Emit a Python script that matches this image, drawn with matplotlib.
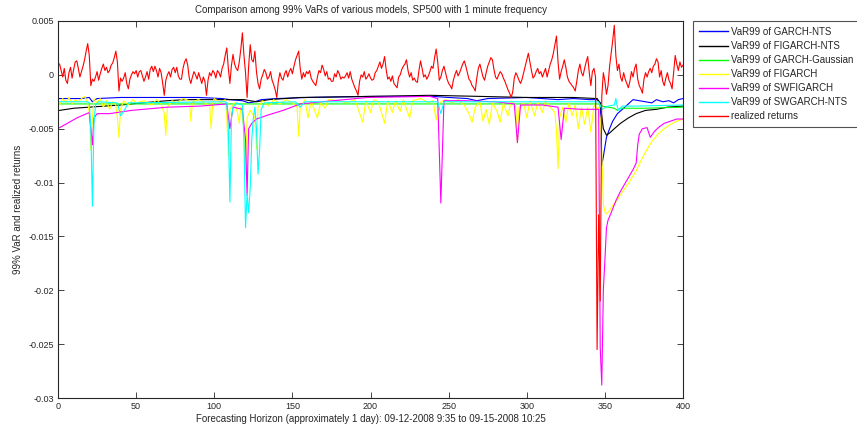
'''
99% VaR of several models vs realized 1-minute returns, SP500
'''

import numpy
from matplotlib import pyplot

pyplot.rcParams['font.family'] = ['Liberation Sans', 'DejaVu Sans']

# all values below are in units of 1e-3

# realized returns, one per minute (t = 1..400)
realized = numpy.array([
    1.0, 0.4, -0.2, 0.6, -0.5, -0.8, 0.2, 0.7, -0.3, 0.5, 1.2, 1.3, 0.6, -0.2, 0.3, 0.8, 1.4, 2.2, 2.9, 1.8,
    -1.0, -0.4, -0.6, -0.2, 0.3, -0.5, 0.1, 0.6, 1.0, 0.4, 0.7, 0.2, 0.4, 0.9, 1.1, 1.6, 2.2, 1.2, -1.5, -0.3,
    -0.6, -0.3, 0.2, -0.8, -1.3, -0.4, 0.0, 0.3, 0.1, 0.4, -0.2, 0.3, 0.4, -0.1, -0.6, -0.2, 0.3, -0.4, 0.5, 0.8,
    0.3, 0.8, 0.4, -0.2, 0.6, 0.2, -0.8, -1.9, -0.5, 0.0, 0.3, -0.2, 0.5, 0.7, 0.2, 0.7, -0.1, -0.4, -0.4, 0.6,
    1.2, 1.5, 0.9, -0.3, -0.8, -0.2, 0.3, 0.0, -0.4, 0.2, -0.3, -0.8, -0.2, -0.6, -1.9, -0.5, 0.2, -0.1, 0.4, 0.2,
    -0.3, 0.4, 0.2, -0.2, 0.6, 1.0, 1.8, 2.5, 0.6, -0.8, 0.9, 1.9, 1.0, 0.6, 0.4, 1.2, 2.4, 3.9, 1.8, 0.2,
    -2.1, 0.8, 2.8, 1.4, 1.2, 2.2, 0.3, -0.8, -1.3, -0.4,
    0.0, 0.5, 0.2, -0.4, -0.2, 0.3, -0.5, -0.9, -1.4, -2.1, -0.6, 0.2, -0.3, -0.5, 0.1, 0.4, -0.2, 0.3, 0.6, 0.1,
    0.8, 1.4, 1.8, 2.2, 0.6, -0.4, 0.2, -0.2, 0.3, 0.1,
    0.4, -0.3, -0.6, -0.8, -1.0, -0.2, 0.4, 0.2, 0.9, 0.5, -0.1, 0.3, -0.4, -0.3, -0.6, -0.6, 0.1, -0.2, 0.4, 0.1,
    -0.4, -0.2, -0.3, -0.1, 0.2, -0.3, 0.3, -0.4, -0.8, -1.2,
    -1.5, -1.9, -0.6, 0.0, -0.2, 0.3, -0.4, -0.2, 0.1, -0.3, -0.5, -0.4, 0.2, 0.4, 0.8, 1.2, 0.6, 1.0, 1.7, 0.5,
    -0.4, -0.2, -0.6, -0.1, -0.8, -1.0, -1.2, -0.2, 0.0, 0.5,
    0.8, 1.0, 1.4, 0.4, -0.2, 0.2, -0.5, -0.3, -0.6, -0.7, 0.4, 1.3, 0.6, -0.2, 0.0, -0.4, -0.1, 0.3, 0.8, 0.6,
    1.6, 2.4, 1.2, -0.5, -0.2, 0.4, 0.8, 0.2, -0.4, -0.8,
    -1.0, -1.3, -0.5, 0.0, 0.4, -0.1, 0.2, 0.6, 1.0, 1.3, 0.8, 0.2, -0.4, -0.6, -1.0, -1.2, -1.5, -0.3, 0.6, 1.0,
    0.4, -0.2, -0.5, 0.2, 0.8, 1.2, 1.6, 1.4, 0.5, -0.2,
    -0.4, 0.0, 0.3, 0.1, -0.3, -0.6, -1.0, -1.4, -1.7, -2.1, -1.6, -0.3, 0.2, -0.1, -0.5, -0.8, -0.4, 0.2, 0.8, 1.4,
    2.0, 1.2, 0.4, -0.3, -0.1, 0.3, 0.6, 0.1, 0.3, -0.2,
    0.2, 0.6, -0.2, 0.4, 1.0, 1.4, 2.0, 2.8, 3.6, 1.2, -0.4, 0.3, 0.8, 1.4, 0.7, -0.2, -0.6, -0.8, -1.0, -1.2,
    -1.5, -0.6, 0.4, 1.0, 0.2, -0.1, 0.6, 1.2, 1.7, 0.2,
    -1.0, 0.3, 0.6, -0.2, -25.5, -13.0, -21.0, -2.0, 0.2, -0.6, -1.8, -1.0, 0.8, 2.0, 3.2, 4.6, 1.8, 0.4, 1.0, -0.2,
    -0.6, 0.2, -0.4, -0.8, -1.2, -0.6, 0.3, -0.2, 0.6, 1.0,
    -0.4, -1.0, -1.3, -1.7, -0.4, 0.2, -0.2, 0.3, 0.6, 0.2, 0.8, 1.0, 1.5, 1.2, -0.2, 0.4, -0.6, -1.0, -0.3, 0.2,
    -0.5, -0.8, -1.3, 0.2, 1.8, 1.0, 0.4, 1.2, 0.7, 0.9,
])
t_realized = numpy.arange(1, realized.size + 1)

# VaR99 of GARCH-NTS
garch_nts_t = [1, 15, 20, 22, 25, 40, 60, 90, 105, 110, 118, 122, 126, 130, 140, 160,
               200, 240, 250, 262, 268, 275, 300, 320, 330, 340, 345, 347, 348, 349,
               351, 353, 355, 358, 362, 365, 368, 372, 376, 380, 383, 387, 391, 394, 397, 400]
garch_nts = [-2.2, -2.2, -2.1, -2.5, -2.2, -2.1, -2.1, -2.1, -2.2, -2.3, -2.4, -2.6, -2.5, -2.3, -2.2, -2.1,
             -2.0, -2.0, -2.1, -2.2, -2.4, -2.2, -2.1, -2.3, -2.2, -2.3, -2.3, -2.6, -8.4, -7.6,
             -5.8, -5.0, -4.3, -3.6, -3.1, -2.7, -2.3, -2.4, -2.5, -2.6, -2.3, -2.5, -2.4, -2.6, -2.3, -2.2]

# VaR99 of FIGARCH-NTS
figarch_nts_t = [1, 10, 20, 30, 40, 54, 70, 82, 100, 119, 123, 127, 135, 155, 200, 238,
                 270, 300, 330, 345, 347, 349, 351, 353, 356, 360, 365, 370, 376, 383, 390, 400]
figarch_nts = [-3.3, -3.1, -3.0, -2.9, -2.8, -2.6, -2.4, -2.3, -2.3, -2.3, -2.4, -2.5, -2.3, -2.1, -2.0, -1.9,
               -2.0, -2.1, -2.1, -2.2, -2.6, -5.0, -5.6, -5.4, -5.0, -4.5, -4.0, -3.6, -3.3, -3.2, -3.0, -2.9]

# VaR99 of GARCH-Gaussian
garch_gauss_t = [1, 100, 200, 300, 346, 348, 352, 356, 358, 360, 364, 375, 400]
garch_gauss = [-2.7, -2.7, -2.7, -2.7, -2.7, -2.9, -3.0, -3.1, -3.3, -3.1, -3.1, -3.1, -3.0]

# VaR99 of FIGARCH
figarch_t = [1, 3, 5, 7, 9, 11, 13, 15, 17, 19, 20, 21, 22, 23, 25, 27, 29, 31, 33, 35,
             37, 38, 39, 40, 42, 45, 48, 50, 55, 60, 63, 66, 68, 69, 70, 73, 76, 80, 84, 85,
             86, 90, 95, 97, 98, 99, 100, 104, 107, 108, 109, 110, 113, 115, 116, 117, 119, 120, 121, 123,
             126, 127, 128, 131, 135, 138, 142, 146, 150, 153, 154, 155, 158, 160, 162, 166, 168, 171, 173, 180,
             185, 190, 195, 197, 200, 202, 205, 209, 211, 214, 216, 219, 221, 225, 227, 232, 237, 240, 242, 244,
             248, 252, 256, 260, 263, 265, 267, 270, 272, 274, 276, 278, 281, 283, 285, 288, 290, 293, 294, 295,
             298, 300, 302, 305, 307, 310, 312, 315, 318, 319, 320, 321, 323, 325, 327, 329, 331, 333, 335, 337,
             339, 341, 343, 345, 346, 347, 348, 349, 350, 351, 353, 355, 358, 361, 365, 370, 374, 377, 380, 384,
             388, 392, 396, 400]
figarch = [-2.8, -2.2, -2.6, -2.1, -2.7, -2.3, -2.5, -2.2, -2.0, -2.6, -3.5, -7.0, -4.0, -2.2, -2.6, -2.2, -3.0, -2.4, -3.2, -2.5,
           -2.8, -4.0, -5.8, -3.2, -2.4, -2.8, -2.3, -2.6, -2.4, -2.8, -2.3, -2.7, -3.6, -5.6, -3.0, -2.4, -2.6, -2.2, -2.4, -4.3,
           -2.5, -2.3, -2.7, -2.8, -5.0, -2.6, -2.2, -2.6, -2.3, -3.8, -7.5, -3.2, -2.6, -3.6, -4.5, -3.0, -5.0, -9.3, -4.0, -3.3,
           -4.0, -6.9, -3.0, -2.4, -2.9, -2.3, -2.7, -2.3, -2.6, -3.0, -5.7, -3.0, -2.3, -4.0, -2.4, -4.0, -2.6, -3.1, -2.3, -2.4,
           -2.6, -2.3, -4.4, -2.4, -3.5, -2.3, -2.5, -4.5, -2.4, -3.5, -2.4, -3.4, -2.3, -4.0, -2.4, -2.2, -2.6, -2.4, -4.2, -2.6,
           -2.3, -2.6, -2.3, -2.8, -3.6, -4.4, -3.0, -2.5, -4.3, -3.2, -4.6, -2.6, -3.4, -4.4, -2.6, -3.8, -2.4, -3.0, -6.3, -3.0,
           -2.6, -4.0, -2.4, -3.8, -2.5, -3.5, -2.4, -3.0, -3.5, -5.2, -8.7, -4.0, -3.0, -4.4, -2.6, -3.8, -2.8, -5.0, -3.0, -4.6,
           -3.0, -5.3, -2.8, -3.2, -3.0, -4.0, -7.0, -12.0, -12.7, -12.9, -12.6, -12.1, -11.6, -10.9, -10.1, -8.9, -7.7, -6.9, -6.2, -5.5,
           -5.0, -4.6, -4.3, -4.1]

# VaR99 of SWFIGARCH
swfigarch_t = [1, 6, 12, 20, 21, 22, 23, 25, 33, 47, 70, 91, 108, 110, 112, 118, 120, 121, 122, 124,
               127, 135, 144, 155, 176, 198, 238, 243, 245, 247, 260, 280, 292, 294, 296, 310, 320, 322, 324, 335,
               345, 346, 347, 348, 349, 350, 351, 352, 354, 357, 360, 364, 368, 370, 371, 372, 374, 377, 379, 382,
               385, 388, 392, 396, 400]
swfigarch = [-4.9, -4.5, -4.0, -3.5, -5.0, -6.5, -4.0, -3.6, -3.6, -3.3, -3.0, -2.9, -2.7, -5.0, -3.0, -3.2, -6.0, -11.2, -5.0, -4.5,
             -4.1, -3.7, -3.3, -2.7, -2.4, -2.1, -2.0, -2.2, -11.9, -2.4, -2.4, -2.5, -2.7, -6.3, -2.8, -2.8, -3.0, -6.0, -3.1, -3.2,
             -3.2, -3.2, -25.3, -28.8, -20.0, -17.2, -14.2, -13.5, -12.8, -11.7, -10.8, -9.8, -8.8, -8.2, -6.5, -5.5, -5.0, -4.9, -5.8, -5.2,
             -4.8, -4.5, -4.3, -4.1, -4.1]

# VaR99 of SWGARCH-NTS
swgarch_nts_t = [1, 19, 20, 21, 22, 23, 24, 26, 38, 40, 42, 45, 107, 108, 109, 110, 111, 112, 114, 118,
                 119, 120, 121, 122, 123, 124, 125, 126, 127, 128, 129, 130, 132, 152, 155, 158, 243, 245, 247, 346,
                 348, 352, 356, 357, 358, 359, 361, 370, 400]
swgarch_nts = [-2.5, -2.5, -2.6, -5.0, -12.2, -4.5, -2.8, -2.5, -2.6, -3.8, -3.4, -2.6, -2.5, -2.6, -5.0, -11.8, -4.0, -3.0, -2.6, -2.8,
               -6.0, -14.2, -11.0, -12.8, -10.5, -6.0, -4.0, -3.0, -5.0, -9.2, -7.0, -3.2, -2.6, -2.5, -3.0, -2.5, -2.5, -3.6, -2.5, -2.5,
               -3.2, -2.9, -2.8, -2.2, -3.0, -3.3, -2.9, -2.9, -2.8]

yticks = [0.005, 0, -0.005, -0.01, -0.015, -0.02, -0.025, -0.03]
yticklabels = ['0.005', '0', '-0.005', '-0.01', '-0.015', '-0.02', '-0.025', '-0.03']
xticks = [0, 50, 100, 150, 200, 250, 300, 350, 400]


# ===========================
# plot
# ===========================

fig = pyplot.figure(figsize=(8.57, 4.32), dpi=100)
ax = fig.add_axes([0.0677, 0.0787, 0.7293, 0.8727])

lw = 0.8
series = [
    (garch_nts_t, garch_nts, '#0000ff', 'VaR99 of GARCH-NTS'),
    (figarch_nts_t, figarch_nts, '#000000', 'VaR99 of FIGARCH-NTS'),
    (garch_gauss_t, garch_gauss, '#00ff00', 'VaR99 of GARCH-Gaussian'),
    (figarch_t, figarch, '#ffff00', 'VaR99 of FIGARCH'),
    (swfigarch_t, swfigarch, '#ff00ff', 'VaR99 of SWFIGARCH'),
    (swgarch_nts_t, swgarch_nts, '#00ffff', 'VaR99 of SWGARCH-NTS'),
    (t_realized, realized, '#ff0000', 'realized returns'),
]
for t, v, c, name in series:
    ax.plot(t, numpy.asarray(v) * 1e-3, color=c, lw=lw, label=name)

# config the figure
tc = '#262626'
ax.set_xlim(0, 400)
ax.set_ylim(-0.03, 0.005)
ax.set_xticks(xticks)
ax.set_xticklabels([str(i) for i in xticks], fontsize=6.5, color=tc)
ax.set_yticks(yticks)
ax.set_yticklabels(yticklabels, fontsize=6.5, color=tc)
ax.tick_params(direction='in', length=4, width=0.6, top=True, right=True, colors=tc, pad=3)
for s in ax.spines.values():
    s.set_linewidth(0.8)
    s.set_color(tc)

ax.set_title("Comparison among 99% VaRs of various models, SP500 with 1 minute frequency",
             fontsize=7, color=tc, pad=6)
ax.set_xlabel("Forecasting Horizon (approximately 1 day): 09-12-2008 9:35 to 09-15-2008 10:25",
              fontsize=7, color=tc, labelpad=2)
ax.set_ylabel("99% VaR and realized returns", fontsize=7, color=tc, labelpad=4)

leg = ax.legend(loc='upper left', bbox_to_anchor=(1.016, 1.0), borderaxespad=0,
                fontsize=7, frameon=True, fancybox=False, handlelength=3.0,
                handletextpad=0.35, labelspacing=0.42, borderpad=0.6)
leg.get_frame().set_edgecolor(tc)
leg.get_frame().set_linewidth(0.8)
for h in leg.get_lines():
    h.set_linewidth(1.0)
for txt in leg.get_texts():
    txt.set_color(tc)

pyplot.savefig("out.png", dpi=100)
